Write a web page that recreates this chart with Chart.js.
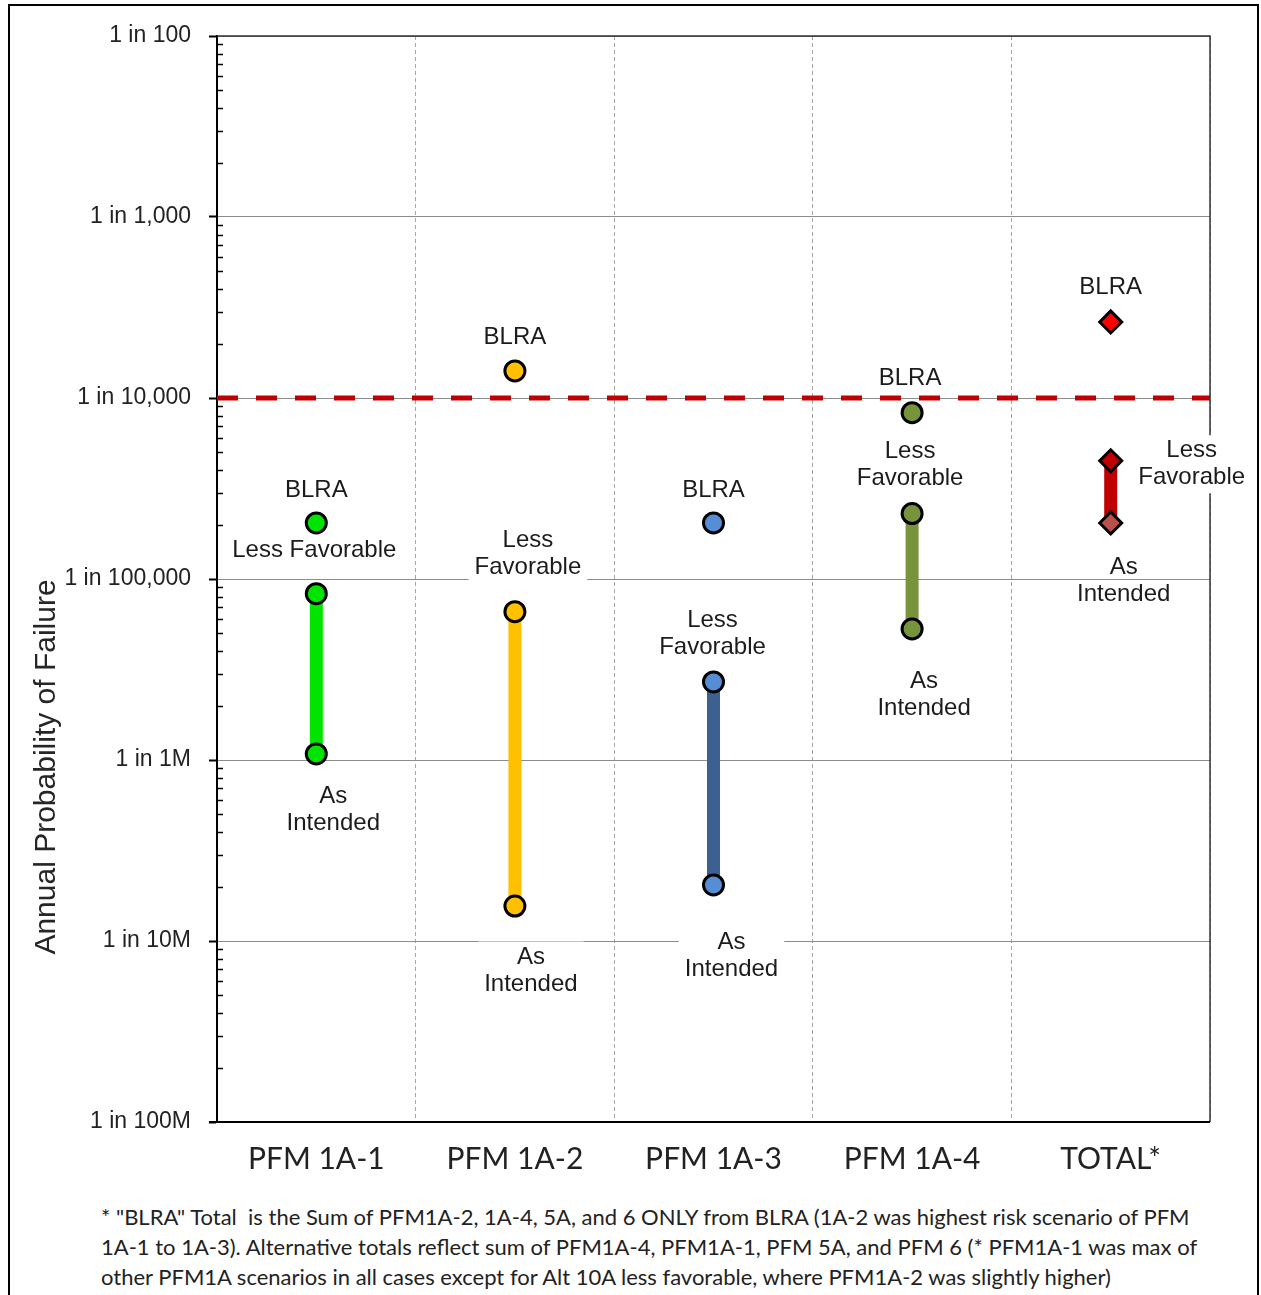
<!DOCTYPE html>
<html>
<head>
<meta charset="utf-8">
<title>Annual Probability of Failure</title>
<script src="https://cdn.jsdelivr.net/npm/chart.js@4.4.1/dist/chart.umd.min.js"></script>
<style>
  html, body { margin: 0; padding: 0; background: #fff; }
  body { width: 1261px; height: 1295px; position: relative; overflow: hidden; }
  #frame { position: absolute; left: 8px; top: 4px; width: 1251px; height: 1400px; border: 2px solid #000; box-sizing: border-box; }
  #chart { position: absolute; left: 0; top: 0; }
  #note { position: absolute; left: 101px; top: 1202px; font-family: Lato, sans-serif; font-size: 22px; line-height: 30px; color: #222; white-space: nowrap; }
</style>
</head>
<body>
<div id="frame"></div>
<canvas id="chart" width="1261" height="1190"></canvas>
<div id="note">* "BLRA" Total&nbsp; is the Sum of PFM1A-2, 1A-4, 5A, and 6 ONLY from BLRA (1A-2 was highest risk scenario of PFM<br>1A-1 to 1A-3). Alternative totals reflect sum of PFM1A-4, PFM1A-1, PFM 5A, and PFM 6 (* PFM1A-1 was max of<br>other PFM1A scenarios in all cases except for Alt 10A less favorable, where PFM1A-2 was slightly higher)</div>
<script>
// Chart data
const categories = ['PFM 1A-1', 'PFM 1A-2', 'PFM 1A-3', 'PFM 1A-4', 'TOTAL*'];
const blra = [2.04e-5, 1.41e-4, 2.04e-5, 8.3e-5, 2.63e-4];
const lessFavorable = [8.3e-6, 6.6e-6, 2.7e-6, 2.3e-5, 4.5e-5];
const asIntended = [1.08e-6, 1.56e-7, 2.04e-7, 5.3e-6, 2.04e-5];
const threshold = 1e-4;
const yTickValues = [1e-8, 1e-7, 1e-6, 1e-5, 1e-4, 1e-3, 1e-2];
const yTickLabels = ['1 in 100M', '1 in 10M', '1 in 1M', '1 in 100,000', '1 in 10,000', '1 in 1,000', '1 in 100'];

// Text shown next to the markers
const pointLabels = [
    { cat: 0, series: 'blra', lines: ['BLRA'] },
    { cat: 0, series: 'lessFavorable', lines: ['Less Favorable'] },
    { cat: 0, series: 'asIntended', lines: ['As', 'Intended'] },
    { cat: 1, series: 'blra', lines: ['BLRA'] },
    { cat: 1, series: 'lessFavorable', lines: ['Less', 'Favorable'] },
    { cat: 1, series: 'asIntended', lines: ['As', 'Intended'] },
    { cat: 2, series: 'blra', lines: ['BLRA'] },
    { cat: 2, series: 'lessFavorable', lines: ['Less', 'Favorable'] },
    { cat: 2, series: 'asIntended', lines: ['As', 'Intended'] },
    { cat: 3, series: 'blra', lines: ['BLRA'] },
    { cat: 3, series: 'lessFavorable', lines: ['Less', 'Favorable'] },
    { cat: 3, series: 'asIntended', lines: ['As', 'Intended'] },
    { cat: 4, series: 'blra', lines: ['BLRA'] },
    { cat: 4, series: 'lessFavorable', lines: ['Less', 'Favorable'] },
    { cat: 4, series: 'asIntended', lines: ['As', 'Intended'] }
];

// Styling
const seriesValues = { blra, lessFavorable, asIntended };
const markerShapes = ['circle', 'circle', 'circle', 'circle', 'rectRot'];
const markerColors = {
    blra: ['#00e400', '#ffc000', '#558ed5', '#77933c', '#ff0000'],
    lessFavorable: ['#00e400', '#ffc000', '#558ed5', '#77933c', '#c00000'],
    asIntended: ['#00e400', '#ffc000', '#558ed5', '#77933c', '#b9504c']
};
const rangeColors = ['#00e400', '#ffc000', '#3b6091', '#77933c', '#c00000'];
// [dx, dy of first line, white box] per pointLabels entry
const labelLayout = [
    [0, -33, false], [-2, -43, true], [17, 42, true],
    [0, -34, false], [13, -71, true], [16, 51, true],
    [0, -33, false], [-1, -62, true], [18, 57, true],
    [-2, -34, false], [-2, -62, true], [12, 52, true],
    [0, -35, false], [81, -10, true], [13, 44, false]
];
const textColor = '#1c1c1c';
const labelFont = '24px "Liberation Sans", Arial, sans-serif';

const rangeSets = categories.map((c, i) => ({
    data: [{ x: c, y: lessFavorable[i] }, { x: c, y: asIntended[i] }],
    borderColor: rangeColors[i],
    borderWidth: 13,
    borderCapStyle: 'butt',
    pointRadius: 0,
    order: 2
}));

const pointSet = (key) => ({
    data: seriesValues[key].map((v, i) => ({ x: categories[i], y: v })),
    showLine: false,
    pointStyle: markerShapes,
    pointRadius: markerShapes.map(s => s === 'rectRot' ? 11 : 10),
    pointBackgroundColor: markerColors[key],
    pointBorderColor: '#000',
    pointBorderWidth: 3,
    order: 1
});

const decorations = {
    id: 'decorations',
    beforeDatasetsDraw(chart) {
        const { ctx, chartArea: a, scales: { y } } = chart;
        ctx.save();
        // minor ticks point inward
        ctx.strokeStyle = '#000';
        ctx.lineWidth = 1.5;
        for (let e = -8; e < -2; e++) {
            for (let k = 2; k <= 9; k++) {
                const py = Math.round(y.getPixelForValue(k * Math.pow(10, e))) + 0.5;
                ctx.beginPath();
                ctx.moveTo(a.left, py);
                ctx.lineTo(a.left + 6, py);
                ctx.stroke();
            }
        }
        // 1 in 10,000 guideline
        const ty = y.getPixelForValue(threshold);
        ctx.strokeStyle = '#c00000';
        ctx.lineWidth = 5;
        ctx.setLineDash([21, 18]);
        ctx.beginPath();
        ctx.moveTo(a.left, ty);
        ctx.lineTo(a.right, ty);
        ctx.stroke();
        ctx.setLineDash([]);
        // plot frame
        ctx.strokeStyle = '#333';
        ctx.lineWidth = 1.5;
        ctx.beginPath();
        ctx.moveTo(a.left, a.top);
        ctx.lineTo(a.right, a.top);
        ctx.lineTo(a.right, a.bottom);
        ctx.stroke();
        ctx.strokeStyle = '#000';
        ctx.lineWidth = 2;
        ctx.beginPath();
        ctx.moveTo(a.left - 8, a.bottom);
        ctx.lineTo(a.right, a.bottom);
        ctx.stroke();
        ctx.restore();
    },
    afterDatasetsDraw(chart) {
        const { ctx, scales: { x, y } } = chart;
        ctx.save();
        ctx.font = labelFont;
        ctx.textAlign = 'center';
        ctx.textBaseline = 'middle';
        const lh = 27;
        pointLabels.forEach((lab, i) => {
            const [dx, dy, box] = labelLayout[i];
            const px = x.getPixelForValue(lab.cat) + dx;
            const py = y.getPixelForValue(seriesValues[lab.series][lab.cat]) + dy;
            if (box) {
                const w = Math.max(...lab.lines.map(t => ctx.measureText(t).width)) + 12;
                ctx.fillStyle = '#fff';
                ctx.fillRect(px - w / 2, py - lh / 2 - 2, w, lab.lines.length * lh + 4);
            }
            ctx.fillStyle = textColor;
            lab.lines.forEach((t, j) => ctx.fillText(t, px, py + j * lh));
        });
        ctx.restore();
    },
    afterDraw(chart) {
        const { ctx } = chart;
        ctx.save();
        ctx.translate(47, 767);
        ctx.rotate(-Math.PI / 2);
        ctx.font = '30px "Liberation Sans", Arial, sans-serif';
        ctx.fillStyle = '#262626';
        ctx.textAlign = 'center';
        ctx.textBaseline = 'middle';
        ctx.fillText('Annual Probability of Failure', 0, 0);
        ctx.restore();
    }
};

new Chart(document.getElementById('chart').getContext('2d'), {
    type: 'line',
    data: {
        labels: categories,
        datasets: [...rangeSets, pointSet('blra'), pointSet('lessFavorable'), pointSet('asIntended')]
    },
    options: {
        responsive: false,
        animation: false,
        devicePixelRatio: 1,
        layout: { padding: { top: 36, right: 51, left: 0, bottom: 0 } },
        plugins: {
            legend: { display: false },
            tooltip: { enabled: false }
        },
        scales: {
            x: {
                type: 'category',
                offset: true,
                grid: { offset: true, color: '#a6a6a6', lineWidth: 1, drawTicks: false },
                border: { display: false, dash: [4, 3] },
                ticks: { font: { family: 'Lato', size: 30 }, color: '#222', padding: 19 },
                afterFit: (s) => { s.height = 68; }
            },
            y: {
                type: 'logarithmic',
                min: 1e-8,
                max: 1e-2,
                afterBuildTicks: (s) => { s.ticks = yTickValues.map(v => ({ value: v })); },
                ticks: {
                    callback: (v, i) => yTickLabels[i],
                    font: { family: 'Liberation Sans', size: 23 },
                    color: '#222',
                    padding: 18
                },
                grid: { color: '#8c8c8c', lineWidth: 1, tickColor: '#000', tickLength: 8, tickWidth: 2 },
                border: { color: '#000', width: 2 },
                afterFit: (s) => { s.width = 217; }
            }
        }
    },
    plugins: [decorations]
});
</script>
</body>
</html>
